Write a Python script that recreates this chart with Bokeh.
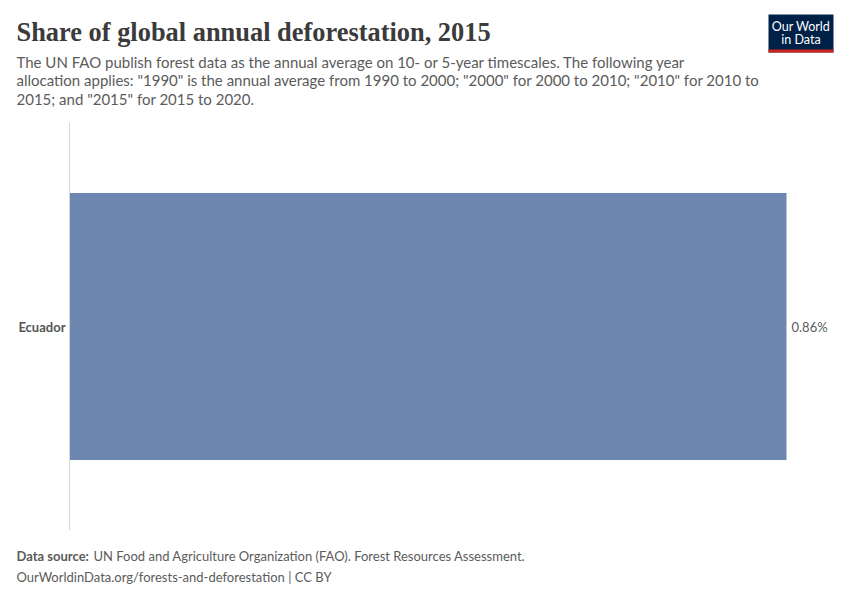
from bokeh.plotting import figure
from bokeh.layouts import column
from bokeh.models import ColumnDataSource, FactorRange, Range1d, Label, BoxAnnotation
from bokeh.core.properties import value
from bokeh.embed import file_html
from bokeh.resources import INLINE

countries = ["Ecuador"]
shares = [0.86]
value_labels = [f"{v:.2f}%" for v in shares]

title = "Share of global annual deforestation, 2015"
subtitle_lines = [
    "The UN FAO publish forest data as the annual average on 10- or 5-year timescales. The following year",
    "allocation applies: \"1990\" is the annual average from 1990 to 2000; \"2000\" for 2000 to 2010; \"2010\" for 2010 to",
    "2015; and \"2015\" for 2015 to 2020.",
]
source_bold = "Data source:"
source_text = "UN Food and Agriculture Organization (FAO). Forest Resources Assessment."
footer2 = "OurWorldinData.org/forests-and-deforestation | CC BY"

W = 850
HEAD_H, CHART_H, FOOT_H = 122, 408, 70
FL, FR = 69, 840
TEXT = "#5b5b5b"


def blank(h):
    f = figure(width=W, height=h, output_backend="svg", toolbar_location=None,
               x_range=Range1d(0, W), y_range=Range1d(0, h), frame_align=False,
               min_border=0, min_border_left=0, min_border_right=0,
               min_border_top=0, min_border_bottom=0)
    f.axis.visible = False
    f.grid.visible = False
    f.outline_line_color = None
    f.border_fill_color = "white"
    f.background_fill_color = "white"
    return f


def lab(f, h, text, cx, cy, size, color=TEXT, font="Lato", style="normal",
        align="left", baseline="alphabetic"):
    f.add_layout(Label(x=cx, y=h - cy, x_units="screen", y_units="screen", text=text,
                       text_font=font, text_font_size=size, text_color=color,
                       text_font_style=style, text_align=align, text_baseline=baseline))


# ---- header ----
head = blank(HEAD_H)
lab(head, HEAD_H, title, 16, 31, "26.4px", color="#3b3b3b", font="Liberation Serif", style="bold")
for i, line in enumerate(subtitle_lines):
    lab(head, HEAD_H, line, 16, 61 + i * 18.7, "15px")
head.add_layout(BoxAnnotation(left=768, right=833, top=HEAD_H - 14, bottom=HEAD_H - 52,
                              left_units="screen", right_units="screen", top_units="screen",
                              bottom_units="screen", fill_color="#002147", fill_alpha=1,
                              line_color=None))
head.add_layout(BoxAnnotation(left=768, right=833, top=HEAD_H - 49, bottom=HEAD_H - 52,
                              left_units="screen", right_units="screen", top_units="screen",
                              bottom_units="screen", fill_color="#ce261e", fill_alpha=1,
                              line_color=None))
lab(head, HEAD_H, "Our World", 800.5, 26, "12.5px", color="white", align="center", baseline="middle")
lab(head, HEAD_H, "in Data", 800.5, 39, "12.5px", color="white", align="center", baseline="middle")

# ---- chart ----
src = ColumnDataSource(dict(country=countries, share=shares, label=value_labels))
p = figure(width=W, height=CHART_H, output_backend="svg", toolbar_location=None,
           y_range=FactorRange(factors=countries, range_padding=0),
           x_range=Range1d(0, max(shares) * (FR - FL) / (786 - FL)), frame_align=False,
           min_border_left=FL, min_border_right=W - FR, min_border_top=0,
           min_border_bottom=0)
p.outline_line_color = None
p.background_fill_color = "white"
p.border_fill_color = "white"
p.xgrid.visible = False
p.ygrid.visible = False
p.xaxis.visible = False

yax = p.yaxis[0]
yax.axis_line_color = "#d6d6d6"
yax.axis_line_width = 1
yax.major_tick_line_color = None
yax.minor_tick_line_color = None
yax.major_tick_out = 0
yax.major_tick_in = 0
yax.major_label_text_font = "Lato"
yax.major_label_text_font_style = "bold"
yax.major_label_text_font_size = "13px"
yax.major_label_text_color = "#555555"
yax.major_label_standoff = 4

p.hbar(y="country", right="share", left=0, height=0.655, source=src,
       fill_color="#6e87b0", line_color=None)
p.text(x="share", y="country", text="label", source=src, x_offset=5,
       text_font=value("Lato"), text_font_size="13px", text_color=TEXT,
       text_baseline="middle", text_align="left")

# ---- footer ----
foot = blank(FOOT_H)
off = HEAD_H + CHART_H
lab(foot, FOOT_H, source_bold, 16, 555 - off, "13px", style="bold")
lab(foot, FOOT_H, source_text, 93, 555 - off, "13px")
lab(foot, FOOT_H, footer2, 16, 576 - off, "13px")

layout = column(head, p, foot, spacing=0)
open("out.html", "w").write(file_html(layout, INLINE))
